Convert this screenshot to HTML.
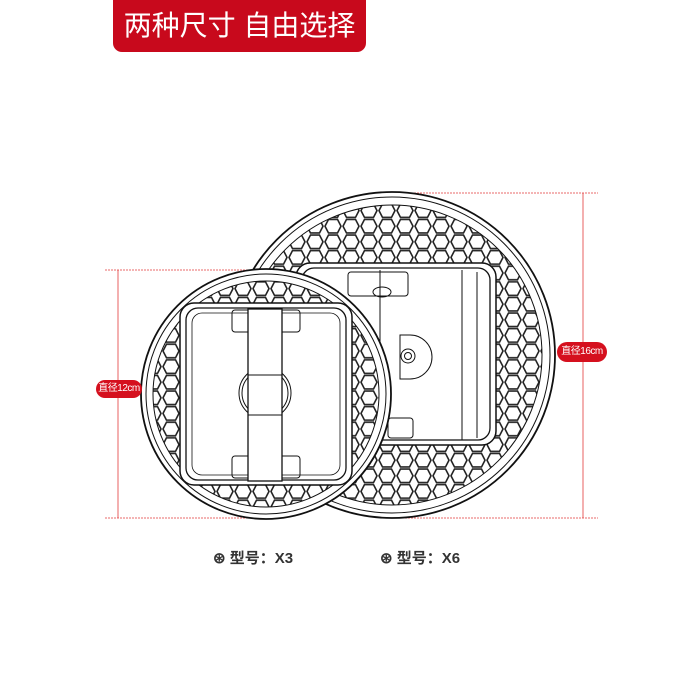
<!DOCTYPE html>
<html><head><meta charset="utf-8"><style>
body{margin:0;width:700px;height:700px;background:#fff;overflow:hidden;position:relative;font-family:"Liberation Sans","Noto Sans CJK SC",sans-serif}
.hdr{position:absolute;left:113px;top:0;width:253px;height:52px;background:#c8091c;border-radius:0 0 9px 9px;color:#fff;font-size:28px;line-height:52px;text-align:center}
.pill{position:absolute;background:#d5101e;color:#fff;font-size:10px;border-radius:10px;text-align:center;letter-spacing:-0.5px}
.lbl{position:absolute;top:547px;font-size:15px;font-weight:bold;color:#333}
</style></head><body>
<div class="hdr">两种尺寸 自由选择</div>
<svg width="700" height="700" style="position:absolute;left:0;top:0">
<defs>
<pattern id="hex" width="18" height="15.6" patternUnits="userSpaceOnUse">
<polygon points="4.5,1 13.5,1 17,7.8 13.5,14.6 4.5,14.6 1,7.8" fill="none" stroke="#222" stroke-width="1.6"/>
</pattern>
</defs>
<g stroke="#e23a3a" stroke-width="0.8" fill="none">
<line x1="390" y1="193" x2="598" y2="193" stroke-dasharray="2,1"/>
<line x1="390" y1="518" x2="598" y2="518" stroke-dasharray="2,1"/>
<line x1="583" y1="193" x2="583" y2="342"/>
<line x1="583" y1="362" x2="583" y2="518"/>
<line x1="105" y1="270" x2="265" y2="270" stroke-dasharray="2,1"/>
<line x1="105" y1="518" x2="265" y2="518" stroke-dasharray="2,1"/>
<line x1="118" y1="270" x2="118" y2="380"/>
<line x1="118" y1="398" x2="118" y2="518"/>
</g>
<g stroke="#111" fill="none">
<circle cx="392" cy="355" r="163" fill="#fff" stroke-width="1.8"/>
<circle cx="392" cy="355" r="158" stroke-width="1"/>
<circle cx="392" cy="355" r="150" fill="url(#hex)" stroke-width="1"/>
<rect x="296" y="263" width="200" height="182" rx="14" fill="#fff" stroke-width="1.5"/>
<rect x="302" y="268" width="188" height="172" rx="12" stroke-width="1.3"/>
<line x1="380" y1="270" x2="380" y2="440"/>
<line x1="462" y1="270" x2="462" y2="440"/>
<line x1="477" y1="272" x2="477" y2="438"/>
<rect x="348" y="272" width="60" height="24" rx="3"/>
<ellipse cx="382" cy="292" rx="9" ry="5"/>
<path d="M400 335 h10 a22 22 0 0 1 0 44 h-10 z"/>
<circle cx="408" cy="356" r="7"/><circle cx="408" cy="356" r="3.5"/>
<rect x="388" y="418" width="25" height="20" rx="3"/>
</g>
<g stroke="#111" fill="none">
<circle cx="266" cy="394" r="125" fill="#fff" stroke-width="1.8"/>
<circle cx="266" cy="394" r="120" stroke-width="1"/>
<circle cx="266" cy="394" r="113" fill="url(#hex)" stroke-width="1"/>
<rect x="180" y="303" width="172" height="182" rx="14" fill="#fff" stroke-width="1.5"/>
<rect x="186" y="308" width="160" height="172" rx="12" stroke-width="1.3"/>
<rect x="192" y="313" width="148" height="162" rx="10" stroke-width="0.8"/>
<rect x="232" y="310" width="68" height="22" rx="3"/>
<rect x="232" y="456" width="68" height="22" rx="3"/>
<circle cx="265" cy="393" r="26"/><circle cx="265" cy="393" r="23"/>
<rect x="248" y="309" width="34" height="172" fill="#fff" stroke-width="1.3"/>
<line x1="248" y1="375" x2="282" y2="375"/>
<line x1="248" y1="415" x2="282" y2="415"/>
</g>
</svg>
<div class="pill" style="left:96px;top:380px;width:46px;height:18px;line-height:18px">直径12cm</div>
<div class="pill" style="left:557px;top:342px;width:50px;height:20px;line-height:20px">直径16cm</div>
<div class="lbl" style="left:213px">⊛ 型号：X3</div>
<div class="lbl" style="left:380px">⊛ 型号：X6</div>
</body></html>
